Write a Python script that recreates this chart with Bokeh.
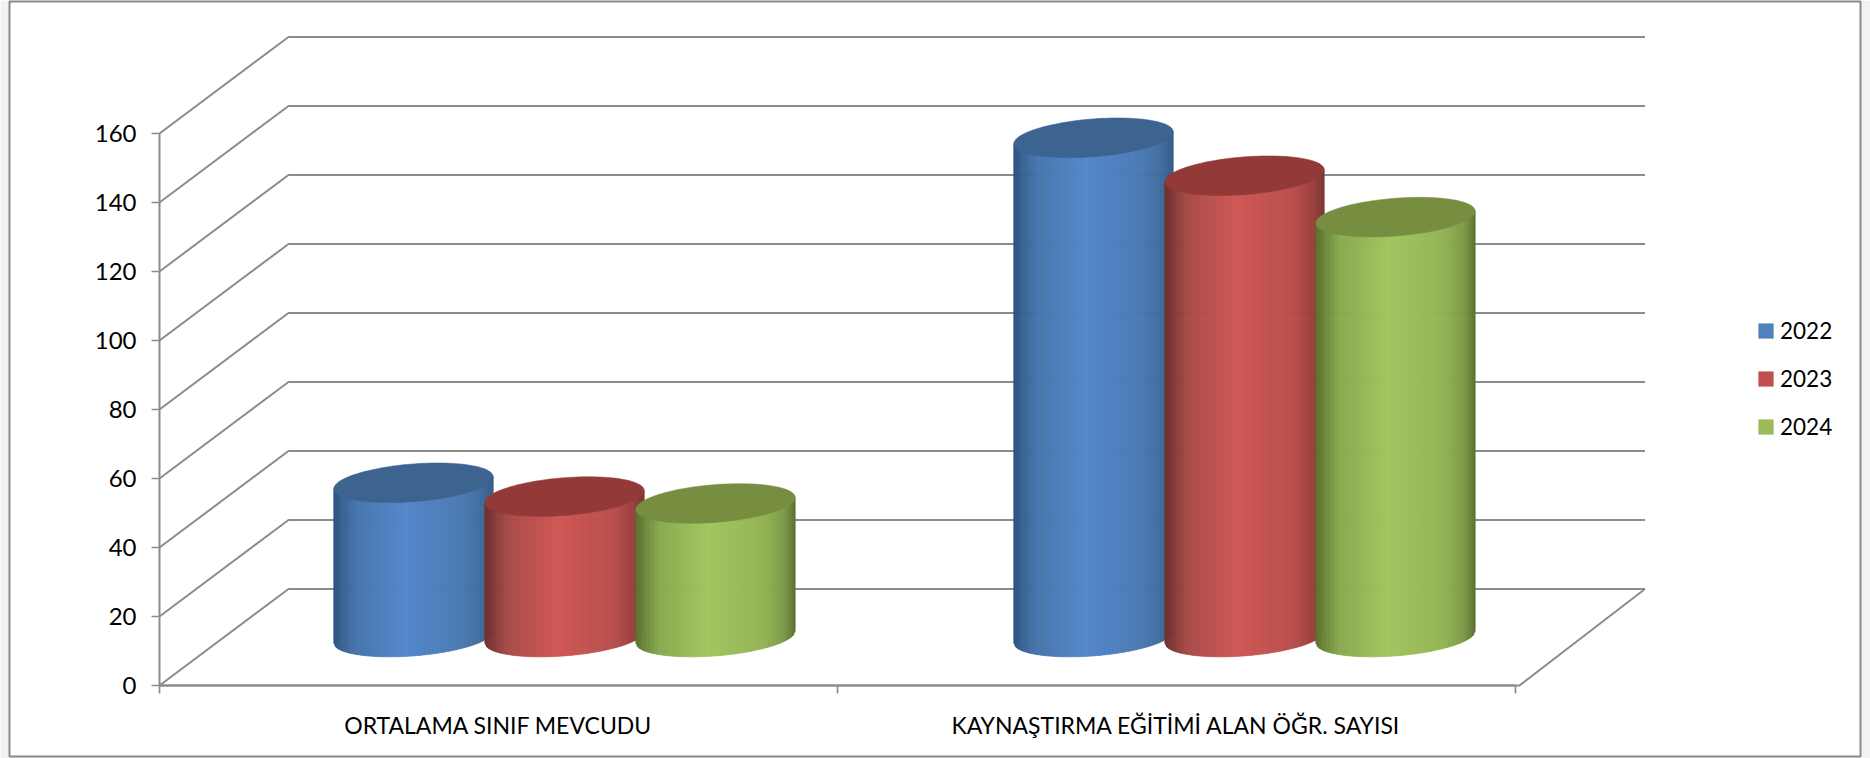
from bokeh.embed import file_html
from bokeh.resources import INLINE
from bokeh.plotting import figure
from bokeh.models import (ColumnDataSource, FixedTicker, Legend, LegendItem, LinearAxis, Range1d)
import numpy as np

# ---- data ----
categories = ["ORTALAMA SINIF MEVCUDU", "KAYNAŞTIRMA EĞİTİMİ ALAN ÖĞR. SAYISI"]
years = ["2022", "2023", "2024"]
values_2022 = [44.7, 144.7]
values_2023 = [40.7, 133.7]
values_2024 = [38.7, 121.7]
y_ticks = [0, 20, 40, 60, 80, 100, 120, 140, 160]

# ---- layout and style ----
W, H = 1870, 758
FRAME_L, FRAME_R, FRAME_T, FRAME_B = 9, 1860, 1, 756
ORIGIN_X, ORIGIN_Y = 159.0, 685.0
PX_PER_CAT, PX_PER_VAL = 677.75, 3.45
FONT = "Lato"
GRID = "#8c8c8c"
INK = "#000000"

def ux(px): return px / PX_PER_CAT
def uy(px): return px / PX_PER_VAL

DEPTH_X, DEPTH_Y = ux(129), uy(96.5)
FLOOR_R = ux(1519 - ORIGIN_X)
BACK_R = ux(1644.5 - ORIGIN_X)
GROUP_CENTER = [ux(564 - ORIGIN_X), ux(1244 - ORIGIN_X)]
BAR_STEP = ux(151)
BAR_HALF = ux(79.7)
BASE = uy(48.5)
SHEAR = uy(6.0)
MINOR = uy(18.9)

STOPS = [0, .05, .15, .45, .8, .93, 1]
BODY = [
    ["#2b4e78", "#36608f", "#4674ac", "#5387cb", "#4a79b2", "#3f6a9c", "#335a85"],
    ["#6e302e", "#7f3836", "#a84a47", "#cf5755", "#b94f4c", "#9a3f3d", "#7a3230"],
    ["#59702f", "#6a8439", "#88a84e", "#a3c55f", "#93b454", "#7d9a46", "#5b7030"],
]
TOPS = ["#3d6390", "#933a38", "#778e41"]
SWATCH = ["#4f81bd", "#c0504d", "#9bbb59"]

def hex_rgb(h): return [int(h[i:i + 2], 16) for i in (1, 3, 5)]

def shade(t, stops):
    rgb = [np.interp(t, STOPS, [hex_rgb(s)[k] for s in stops]) for k in range(3)]
    return "#%02x%02x%02x" % tuple(int(round(c)) for c in rgb)

p = figure(
    width=W, height=H, output_backend="svg", toolbar_location=None,
    x_range=Range1d(ux(FRAME_L - ORIGIN_X), ux(FRAME_R - ORIGIN_X)),
    y_range=Range1d(uy(ORIGIN_Y - FRAME_B), uy(ORIGIN_Y - FRAME_T)),
    x_axis_type=None, y_axis_type=None,
    min_border_left=FRAME_L, min_border_right=W - FRAME_R,
    min_border_top=FRAME_T, min_border_bottom=H - FRAME_B,
    border_fill_color="#f2f2f2", background_fill_color="#ffffff",
    outline_line_color="#8a8a8a", outline_line_width=2,
)
p.grid.visible = False

# walls and floor
for v in y_ticks:
    p.line([0, DEPTH_X, BACK_R], [v, v + DEPTH_Y, v + DEPTH_Y], line_color=GRID, line_width=2)
p.line([0, FLOOR_R, BACK_R], [0, 0, DEPTH_Y], line_color=GRID, line_width=2)

# axes
yaxis = LinearAxis(ticker=FixedTicker(ticks=y_ticks), fixed_location=0, bounds=(0, 160),
                   axis_line_color=GRID, axis_line_width=2,
                   major_tick_line_color=GRID, major_tick_line_width=1.7,
                   major_tick_out=8, major_tick_in=0, minor_tick_out=0, minor_tick_in=0,
                   major_label_standoff=15, major_label_text_font=FONT,
                   major_label_text_font_size="24px", major_label_text_color=INK)
p.add_layout(yaxis, "left")

xaxis = LinearAxis(ticker=FixedTicker(ticks=[0, 1, 2]), fixed_location=0, bounds=(0, 2),
                   axis_line_color=GRID, axis_line_width=2,
                   major_tick_line_color=GRID, major_tick_line_width=1.7,
                   major_tick_out=8, major_tick_in=0, minor_tick_out=0, minor_tick_in=0,
                   major_label_text_color=None, major_label_text_font_size="1px")
p.add_layout(xaxis, "below")

label_pos = [i + 0.5 for i in range(len(categories))]
laxis = LinearAxis(ticker=FixedTicker(ticks=label_pos), fixed_location=0,
                   axis_line_color=None, major_tick_line_color=None,
                   major_tick_out=0, major_tick_in=0, minor_tick_out=0, minor_tick_in=0,
                   major_label_overrides=dict(zip(label_pos, categories)),
                   major_label_standoff=25, major_label_text_font=FONT,
                   major_label_text_font_size="23px", major_label_text_color=INK)
p.add_layout(laxis, "below")

# cylinders
series = [values_2022, values_2023, values_2024]
N = 80
edges = np.linspace(-1, 1, N + 1)
for s, vals in enumerate(series):
    for g, val in enumerate(vals):
        cx = GROUP_CENTER[g] + (s - 1) * BAR_STEP
        top = BASE + val
        xs, ys, cols = [], [], []
        for a, b in zip(edges[:-1], edges[1:]):
            xs.append([cx + a * BAR_HALF, cx + b * BAR_HALF, cx + b * BAR_HALF, cx + a * BAR_HALF])
            ys.append([BASE + SHEAR * a - MINOR * np.sqrt(1 - a * a),
                       BASE + SHEAR * b - MINOR * np.sqrt(1 - b * b),
                       top + SHEAR * b, top + SHEAR * a])
            cols.append(shade((a + b + 2) / 4, BODY[s]))
        src = ColumnDataSource(dict(xs=xs, ys=ys, c=cols))
        p.patches("xs", "ys", source=src, fill_color="c", line_color="c", line_width=0.7)
        th = np.linspace(0, 2 * np.pi, 121)
        p.patch(cx + BAR_HALF * np.cos(th),
                top + SHEAR * np.cos(th) + MINOR * np.sin(th),
                fill_color=TOPS[s], line_color=TOPS[s], line_width=0.5)

# legend
nan = float("nan")
swatches = [p.quad(left=[nan], right=[nan], top=[nan], bottom=[nan], fill_color=c, line_color=None)
            for c in SWATCH]
legend = Legend(items=[LegendItem(label=y, renderers=[r]) for y, r in zip(years, swatches)],
                location=(1747, 316), orientation="vertical",
                glyph_width=19, glyph_height=19, spacing=21, label_standoff=5,
                label_text_font=FONT, label_text_font_size="22.5px", label_text_color=INK,
                background_fill_alpha=0, border_line_color=None,
                padding=0, margin=0)
p.add_layout(legend, "center")

open("out.html", "w").write(file_html(p, INLINE))
